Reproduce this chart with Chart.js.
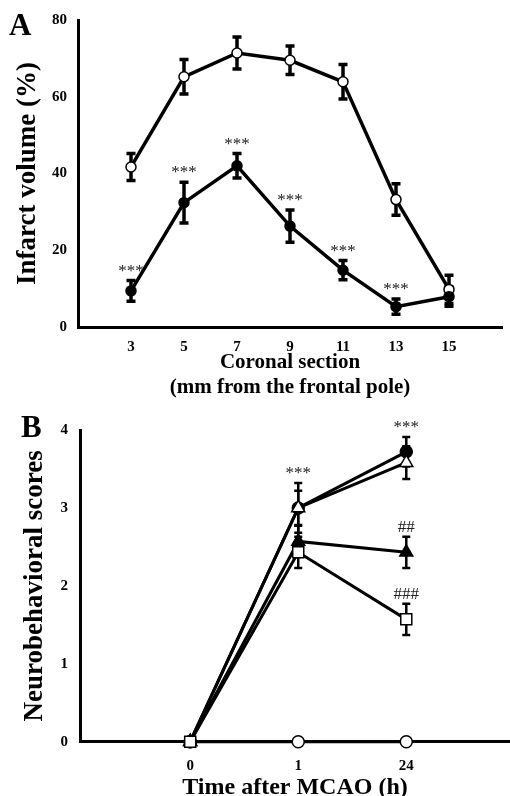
<!DOCTYPE html>
<html>
<head>
<meta charset="utf-8">
<script src="https://cdn.jsdelivr.net/npm/chart.js@4/dist/chart.umd.min.js"></script>
<style>
  html, body { margin: 0; padding: 0; background: #fff; overflow: hidden; }
  #wrapA { position: absolute; left: 0; top: 0; width: 510px; height: 400px; }
  #wrapB { position: absolute; left: 0; top: 400px; width: 510px; height: 410px; }
</style>
</head>
<body>
<div id="wrapA"><canvas id="chartA" width="510" height="400"></canvas></div>
<div id="wrapB"><canvas id="chartB" width="510" height="410"></canvas></div>
<script>
// panel A: infarct volume per coronal section
const sectionsA = [3, 5, 7, 9, 11, 13, 15];
const controlA = [41.7, 65.2, 71.4, 69.5, 63.9, 33.2, 9.8];
const controlErrA = [3.5, 4.5, 4.2, 3.7, 4.5, 4.1, 3.7];
const treatedA = [9.4, 32.4, 42.0, 26.3, 14.8, 5.3, 7.9];
const treatedErrA = [2.7, 5.3, 3.2, 4.2, 2.5, 2.0, 2.5];
const sigA = ["***", "***", "***", "***", "***", "***", ""];
const yTicksA = [0, 20, 40, 60, 80];

// panel B: neurobehavioral scores
const timeLabelsB = ["0", "1", "24"];
const shamB = [0, 0, 0];
const circleB = [0, 3.0, 3.72];
const circleErrB = [0, 0.32, 0.19];
const circleSigB = ["", "***", "***"];
const triOpenB = [0, 3.0, 3.58];
const triOpenErrB = [0, 0.22, 0.21];
const triFilledB = [0, 2.57, 2.43];
const triFilledErrB = [0, 0.2, 0.2];
const triFilledSigB = ["", "", "##"];
const squareB = [0, 2.43, 1.57];
const squareErrB = [0, 0.2, 0.2];
const squareSigB = ["", "", "###"];
const yTicksB = [0, 1, 2, 3, 4];

const serif = "'Liberation Serif', 'Times New Roman', serif";

const errorBars = {
  id: "errorBars",
  beforeDatasetsDraw(chart, args, opts) {
    const { ctx } = chart;
    const x = chart.scales.x, y = chart.scales.y;
    ctx.save();
    ctx.strokeStyle = "#000";
    ctx.lineWidth = opts.width;
    chart.data.datasets.forEach(ds => {
      if (!ds.errors) return;
      ds.data.forEach((p, i) => {
        const e = ds.errors[i];
        if (!e) return;
        const px = x.getPixelForValue(p.x);
        const t = y.getPixelForValue(p.y + e);
        const b = y.getPixelForValue(p.y - e);
        ctx.beginPath();
        ctx.moveTo(px, t); ctx.lineTo(px, b);
        ctx.moveTo(px - opts.cap, t); ctx.lineTo(px + opts.cap, t);
        ctx.moveTo(px - opts.cap, b); ctx.lineTo(px + opts.cap, b);
        ctx.stroke();
      });
    });
    ctx.restore();
  },
  afterDatasetsDraw(chart, args, opts) {
    const { ctx } = chart;
    const x = chart.scales.x, y = chart.scales.y;
    ctx.save();
    ctx.fillStyle = "#222";
    ctx.textAlign = "center";
    ctx.textBaseline = "alphabetic";
    ctx.font = opts.markFont;
    chart.data.datasets.forEach(ds => {
      if (!ds.marks) return;
      ds.data.forEach((p, i) => {
        const m = ds.marks[i];
        if (!m) return;
        const px = x.getPixelForValue(p.x);
        const t = y.getPixelForValue(p.y + (ds.errors ? ds.errors[i] : 0));
        ctx.fillText(m, px, t - opts.markGap);
      });
    });
    ctx.restore();
  }
};

const panelLabel = {
  id: "panelLabel",
  afterDraw(chart, args, opts) {
    const { ctx } = chart;
    ctx.save();
    ctx.fillStyle = "#000";
    ctx.font = "bold 31px " + serif;
    ctx.textAlign = "left";
    ctx.textBaseline = "alphabetic";
    ctx.fillText(opts.text, opts.x, opts.y);
    ctx.restore();
  }
};

const tickFont = { family: serif, size: 15, weight: "bold" };

new Chart(document.getElementById("chartA"), {
  type: "scatter",
  data: {
    datasets: [
      {
        data: sectionsA.map((s, i) => ({ x: s, y: treatedA[i] })),
        errors: treatedErrA,
        marks: sigA,
        showLine: true,
        borderColor: "#000",
        borderWidth: 3.5,
        pointRadius: 5,
        pointBackgroundColor: "#000",
        pointBorderColor: "#000",
        pointBorderWidth: 1.5,
      },
      {
        data: sectionsA.map((s, i) => ({ x: s, y: controlA[i] })),
        errors: controlErrA,
        showLine: true,
        borderColor: "#000",
        borderWidth: 3.5,
        pointRadius: 5,
        pointBackgroundColor: "#fff",
        pointBorderColor: "#000",
        pointBorderWidth: 1.5,
      },
    ],
  },
  options: {
    responsive: false,
    animation: false,
    layout: { autoPadding: false, padding: { top: 20, right: 8, left: 0, bottom: 0 } },
    scales: {
      x: {
        type: "linear",
        min: 1,
        max: 17,
        afterBuildTicks: s => { s.ticks = sectionsA.map(v => ({ value: v })); },
        afterFit: s => { s.height = 73; },
        grid: { display: false, drawTicks: false },
        border: { color: "#000", width: 3 },
        ticks: { padding: 11, font: tickFont, color: "#000" },
        title: {
          display: true,
          text: ["Coronal section", "(mm from the frontal pole)"],
          font: { family: serif, size: 21, weight: "bold" },
          color: "#000",
          padding: { top: 0, bottom: 0 },
        },
      },
      y: {
        min: 0,
        max: 80,
        afterBuildTicks: s => { s.ticks = yTicksA.map(v => ({ value: v })); },
        afterFit: s => { s.width = 78; },
        grid: { display: false, drawTicks: false },
        border: { color: "#000", width: 3 },
        ticks: { padding: 11, font: tickFont, color: "#000" },
        title: {
          display: true,
          text: "Infarct volume (%)",
          font: { family: serif, size: 27, weight: "bold" },
          color: "#000",
          padding: { top: 12, bottom: 0 },
        },
      },
    },
    plugins: {
      legend: { display: false },
      tooltip: { enabled: false },
      errorBars: { width: 3.5, cap: 4.5, markFont: "17px " + serif, markGap: 5 },
      panelLabel: { text: "A", x: 9, y: 35 },
    },
  },
  plugins: [errorBars, panelLabel],
});

function seriesB(vals) {
  return vals.map((v, i) => ({ x: i, y: v }));
}

new Chart(document.getElementById("chartB"), {
  type: "scatter",
  data: {
    datasets: [
      {
        data: seriesB(squareB),
        errors: squareErrB,
        marks: squareSigB,
        pointStyle: "rect",
        pointRadius: 7.8,
        pointBackgroundColor: "#fff",
      },
      {
        data: seriesB(triOpenB),
        errors: triOpenErrB,
        pointStyle: "triangle",
        pointRadius: 7.5,
        pointBackgroundColor: "#fff",
      },
      {
        data: seriesB(triFilledB),
        errors: triFilledErrB,
        marks: triFilledSigB,
        pointStyle: "triangle",
        pointRadius: 7.5,
        pointBackgroundColor: "#000",
      },
      {
        data: seriesB(circleB),
        errors: circleErrB,
        marks: circleSigB,
        pointStyle: "circle",
        pointRadius: 6,
        pointBackgroundColor: "#000",
      },
      {
        data: seriesB(shamB),
        pointStyle: "circle",
        pointRadius: 6,
        pointBackgroundColor: "#fff",
      },
    ].map(d => Object.assign({
      showLine: true,
      clip: false,
      borderColor: "#000",
      borderWidth: 3,
      pointBorderColor: "#000",
      pointBorderWidth: 1.5,
    }, d)),
  },
  options: {
    responsive: false,
    animation: false,
    layout: { autoPadding: false, padding: { top: 30, right: 0, left: 0, bottom: 0 } },
    scales: {
      x: {
        type: "linear",
        min: -1.02,
        max: 2.96,
        afterBuildTicks: s => { s.ticks = timeLabelsB.map((t, i) => ({ value: i })); },
        afterFit: s => { s.height = 68.3; },
        grid: { display: false, drawTicks: false },
        border: { color: "#000", width: 3 },
        ticks: { padding: 15, font: tickFont, color: "#000", callback: v => timeLabelsB[v] },
        title: {
          display: true,
          text: "Time after MCAO (h)",
          font: { family: serif, size: 24, weight: "bold" },
          color: "#000",
          padding: { top: 0, bottom: 8 },
        },
      },
      y: {
        min: 0,
        max: 4,
        afterBuildTicks: s => { s.ticks = yTicksB.map(v => ({ value: v })); },
        afterFit: s => { s.width = 80; },
        grid: { display: false, drawTicks: false },
        border: { color: "#000", width: 3 },
        ticks: { padding: 12, font: tickFont, color: "#000" },
        title: {
          display: true,
          text: "Neurobehavioral scores",
          font: { family: serif, size: 27, weight: "bold" },
          color: "#000",
          padding: { top: 19, bottom: 0 },
        },
      },
    },
    plugins: {
      legend: { display: false },
      tooltip: { enabled: false },
      errorBars: { width: 2.5, cap: 4, markFont: "17px " + serif, markGap: 5 },
      panelLabel: { text: "B", x: 21, y: 37 },
    },
  },
  plugins: [errorBars, panelLabel],
});
</script>
</body>
</html>
